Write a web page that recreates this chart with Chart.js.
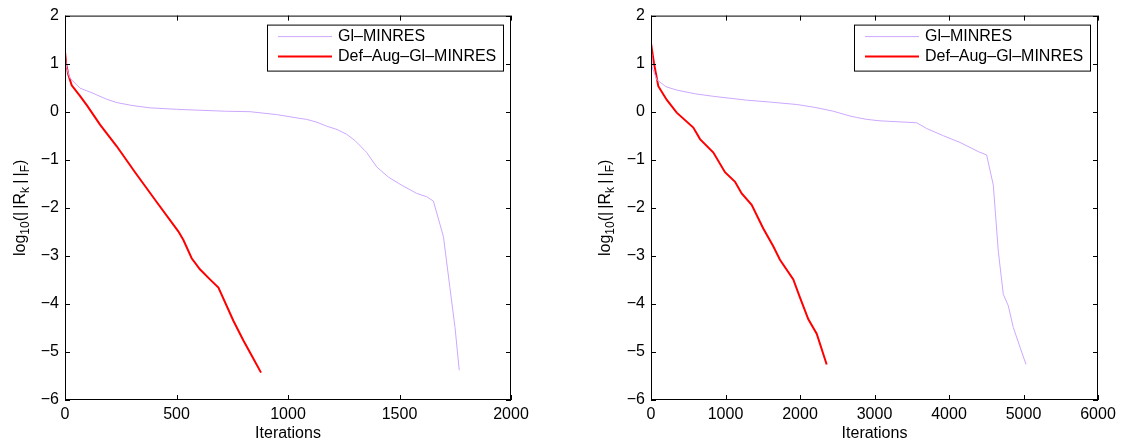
<!DOCTYPE html>
<html>
<head>
<meta charset="utf-8">
<script src="https://cdn.jsdelivr.net/npm/chart.js@4.4.0/dist/chart.umd.min.js"></script>
<style>
body { margin: 0; background: #fff; }
.box { position: absolute; top: 0; height: 446px; }
</style>
</head>
<body>
<div class="box" style="left:0;width:580px"><canvas id="left"></canvas></div>
<div class="box" style="left:580px;width:547px"><canvas id="right"></canvas></div>
<script>
// series labels
var labels = ['Gl\u2013MINRES', 'Def\u2013Aug\u2013Gl\u2013MINRES'];
var yTicks = [-6, -5, -4, -3, -2, -1, 0, 1, 2];

// left plot
var leftGlIter = [0, 8, 22, 67, 112, 187, 232, 300, 381, 500, 605, 720, 830, 949, 1054, 1084, 1130, 1173, 1220, 1263, 1300, 1345, 1353, 1398, 1450, 1510, 1577, 1622, 1652, 1697, 1726, 1749, 1768];
var leftGl = [1.15, 0.9, 0.70, 0.49, 0.41, 0.26, 0.19, 0.13, 0.08, 0.05, 0.03, 0.01, 0.0, -0.06, -0.14, -0.16, -0.22, -0.30, -0.37, -0.47, -0.6, -0.81, -0.85, -1.15, -1.36, -1.53, -1.70, -1.77, -1.86, -2.60, -3.66, -4.49, -5.38];
var leftDefIter = [0, 5, 15, 30, 67, 100, 157, 232, 314, 411, 508, 531, 568, 605, 650, 688, 755, 800, 845, 879];
var leftDef = [1.25, 1.0, 0.77, 0.55, 0.33, 0.12, -0.27, -0.72, -1.26, -1.88, -2.49, -2.67, -3.05, -3.28, -3.49, -3.66, -4.35, -4.76, -5.14, -5.43];

// right plot
var rightGlIter = [0, 10, 76, 200, 345, 600, 837, 1284, 1600, 1956, 2200, 2447, 2671, 2761, 2895, 3074, 3566, 3700, 3924, 4148, 4393, 4505, 4595, 4662, 4729, 4796, 4863, 4953, 5034];
var rightGl = [1.2, 0.95, 0.67, 0.52, 0.45, 0.37, 0.32, 0.24, 0.2, 0.15, 0.09, 0.01, -0.09, -0.12, -0.16, -0.19, -0.23, -0.35, -0.50, -0.64, -0.83, -0.90, -1.53, -2.91, -3.80, -4.04, -4.49, -4.90, -5.26];
var rightDefIter = [0, 40, 98, 210, 345, 568, 658, 837, 993, 1128, 1217, 1351, 1507, 1641, 1731, 1910, 2000, 2112, 2224, 2358];
var rightDef = [1.42, 1.01, 0.53, 0.25, -0.02, -0.33, -0.57, -0.85, -1.26, -1.46, -1.70, -1.94, -2.43, -2.80, -3.08, -3.49, -3.87, -4.32, -4.62, -5.26];

const FONT = "'Liberation Sans', Arial, sans-serif";
const PURPLE = 'rgb(204,168,255)';
const RED = 'rgb(255,0,0)';

function pts(xs, ys) {
	return xs.map((x, i) => ({ x: x, y: ys[i] }));
}

// draws the box, inward ticks, legend and axis titles the matlab way
const frame = {
	id: 'frame',
	afterDraw(chart, args, opts) {
		const ctx = chart.ctx;
		const a = chart.chartArea;
		const sx = chart.scales.x, sy = chart.scales.y;
		ctx.save();
		ctx.strokeStyle = '#000';
		ctx.lineWidth = 1;
		ctx.strokeRect(a.left + 0.5, a.top + 0.5, a.width - 1, a.height - 1);
		ctx.beginPath();
		sx.ticks.forEach(t => {
			const p = Math.round(sx.getPixelForValue(t.value)) + 0.5;
			ctx.moveTo(p, a.bottom); ctx.lineTo(p, a.bottom - 5);
			ctx.moveTo(p, a.top); ctx.lineTo(p, a.top + 5);
		});
		sy.ticks.forEach(t => {
			const p = Math.round(sy.getPixelForValue(t.value)) + 0.5;
			ctx.moveTo(a.left, p); ctx.lineTo(a.left + 5, p);
			ctx.moveTo(a.right, p); ctx.lineTo(a.right - 5, p);
		});
		ctx.stroke();

		// legend
		const w = 236, h = 46;
		const lx = a.right - 8 - w, ly = a.top + 9;
		ctx.fillStyle = '#fff';
		ctx.fillRect(lx, ly, w, h);
		ctx.strokeRect(lx + 0.5, ly + 0.5, w, h);
		ctx.font = '16px ' + FONT;
		ctx.textBaseline = 'middle';
		chart.data.datasets.forEach((ds, i) => {
			const ry = ly + 12 + i * 20;
			ctx.strokeStyle = ds.borderColor;
			ctx.lineWidth = ds.borderWidth;
			ctx.beginPath();
			ctx.moveTo(lx + 11, ry); ctx.lineTo(lx + 65, ry);
			ctx.stroke();
			ctx.fillStyle = '#000';
			ctx.fillText(ds.label, lx + 71, ry);
		});

		// x title
		ctx.fillStyle = '#000';
		ctx.textAlign = 'center';
		ctx.fillText('Iterations', (a.left + a.right) / 2, 434);

		// y title with subscripts
		const parts = [['log', 0], ['10', 1], ['(|\u2009|R', 0], ['k', 1], ['\u2009|\u2009|', 0], ['F', 1], [')', 0]];
		const big = '16px ' + FONT, small = '12px ' + FONT;
		let total = 0;
		parts.forEach(p => { ctx.font = p[1] ? small : big; total += ctx.measureText(p[0]).width; });
		ctx.translate(opts.titleX, (a.top + a.bottom) / 2);
		ctx.rotate(-Math.PI / 2);
		ctx.textAlign = 'left';
		ctx.textBaseline = 'alphabetic';
		let x = -total / 2;
		parts.forEach(p => {
			ctx.font = p[1] ? small : big;
			ctx.fillText(p[0], x, p[1] ? 4 : 0);
			x += ctx.measureText(p[0]).width;
		});
		ctx.restore();
	}
};

function makeChart(id, gl, def, xMax, xStep, axisWidth, padRight, titleX) {
	return new Chart(document.getElementById(id), {
		type: 'line',
		data: {
			datasets: [{
				label: labels[0],
				data: gl,
				borderColor: PURPLE,
				borderWidth: 1,
				pointRadius: 0,
				tension: 0
			},
			{
				label: labels[1],
				data: def,
				borderColor: RED,
				borderWidth: 2,
				pointRadius: 0,
				tension: 0
			}]
		},
		options: {
			animation: false,
			responsive: true,
			maintainAspectRatio: false,
			layout: { padding: { left: 0, right: padRight, top: 12, bottom: 0 } },
			scales: {
				x: {
					type: 'linear',
					min: 0,
					max: xMax,
					grid: { display: false, drawTicks: false },
					border: { display: false },
					ticks: {
						stepSize: xStep, padding: 5, color: '#000', font: { family: FONT, size: 16 },
						callback: v => String(v)
					},
					afterFit(s) { s.height = 46; }
				},
				y: {
					min: yTicks[0],
					max: yTicks[yTicks.length - 1],
					grid: { display: false, drawTicks: false },
					border: { display: false },
					ticks: {
						stepSize: 1, padding: 6, color: '#000', font: { family: FONT, size: 16 },
						callback: v => String(v).replace('-', '\u2212')
					},
					afterFit(s) { s.width = axisWidth; }
				}
			},
			plugins: {
				legend: { display: false },
				tooltip: { enabled: false },
				frame: { titleX: titleX }
			}
		},
		plugins: [frame]
	});
}

makeChart('left', pts(leftGlIter, leftGl), pts(leftDefIter, leftDef), 2000, 500, 65, 69, 25);
makeChart('right', pts(rightGlIter, rightGl), pts(rightDefIter, rightDef), 6000, 1000, 71, 29, 30);
</script>
</body>
</html>
